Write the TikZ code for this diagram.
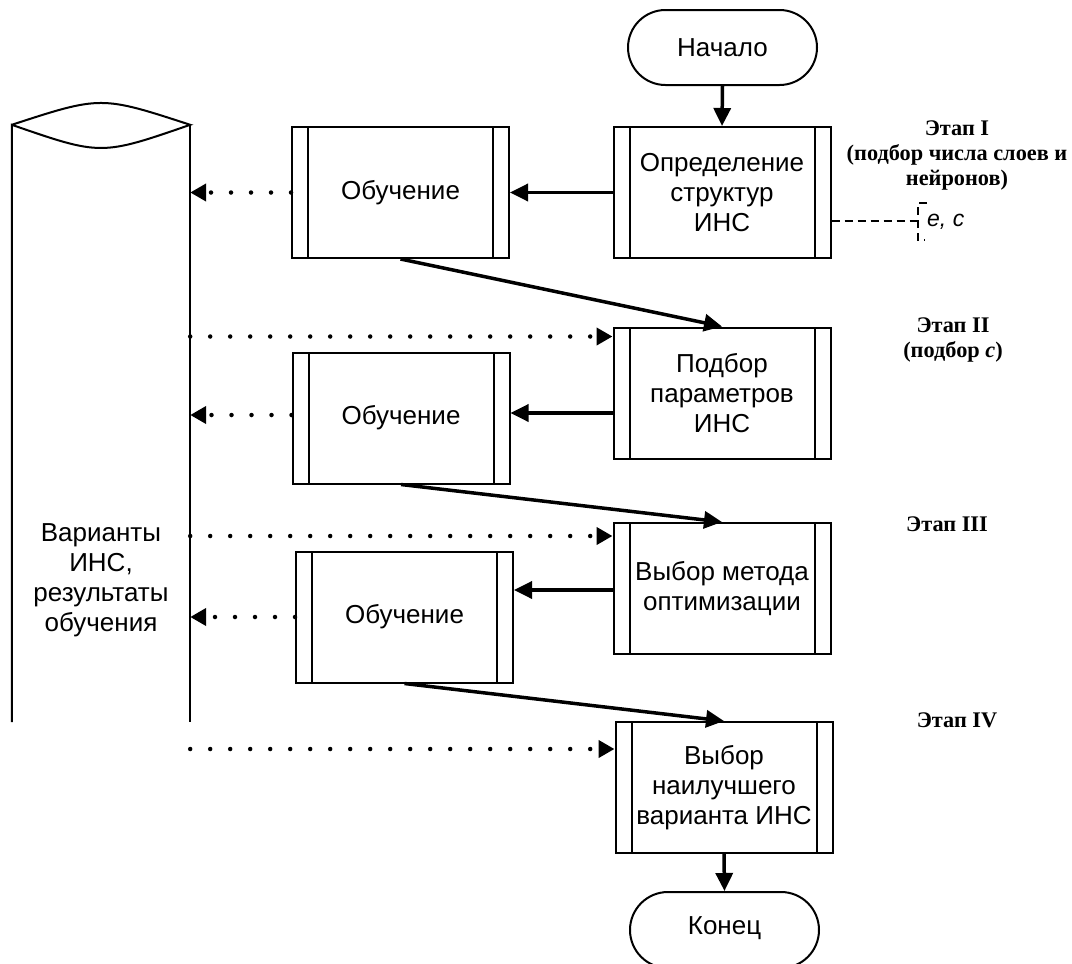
\documentclass[tikz,border=0pt]{standalone}
\usepackage{fontspec}
\setmainfont{Liberation Sans}
\newfontfamily\stagefont{Liberation Serif}
\usetikzlibrary{arrows.meta,shapes.misc}
\begin{document}
\begin{tikzpicture}[x=1pt,y=-1pt,
  txt/.style={font=\fontsize{26}{30}\selectfont},
  proc/.style={draw, line width=2pt, minimum width=217pt, minimum height=131pt,
    align=center, inner sep=0pt, txt,
    path picture={
      \draw[line width=2pt] ([xshift=16pt]path picture bounding box.north west) -- ([xshift=16pt]path picture bounding box.south west);
      \draw[line width=2pt] ([xshift=-16pt]path picture bounding box.north east) -- ([xshift=-16pt]path picture bounding box.south east);
    }},
  term/.style={draw, line width=2pt, rounded rectangle, minimum width=189pt, minimum height=75pt, inner sep=0pt, txt},
  arr/.style={line width=3.5pt, -{Triangle[length=18pt,width=17pt]}},
  dotarr/.style={line width=4.5pt, line cap=round, dash pattern=on 0pt off 20pt,
    -{Triangle[length=16pt,width=17pt]}},
  stage/.style={font=\stagefont\bfseries\fontsize{22.3}{25}\selectfont, align=center, inner sep=0pt},
  annot/.style={line width=1.3pt, dash pattern=on 8pt off 5pt}
]
\useasboundingbox (0,0) rectangle (1072,964);
\clip (0,0) rectangle (1072,964);

% cylinder
\node[minimum width=178pt, minimum height=597pt, inner sep=0pt] (db) at (101,423.5) {};
\draw[line width=2pt] (db.north west) .. controls (101,95.7) .. (db.north east)
  .. controls (101,155.7) .. (db.north west) -- (db.south west);
\draw[line width=2pt] (db.north east) -- (db.south east);
\node[txt, align=center] (dbtext) at (101,580) {Варианты\\ИНС,\\результаты\\обучения};

% nodes
\node[term] (start) at (722.5,47.5) {Начало};
\node[proc] (b1) at (722,192.5) {Определение\\структур\\ИНС};
\node[proc] (o1) at (400.5,192.5) {Обучение};
\node[proc] (b2) at (722,393) {Подбор\\параметров\\ИНС};
\node[proc] (o2) at (401,418) {Обучение};
\node[proc] (b3) at (722,588.5) {Выбор метода\\оптимизации};
\node[proc] (o3) at (404.5,617) {Обучение};
\node[proc] (b4) at (724,787.5) {Выбор\\наилучшего\\варианта ИНС};
\node[term, minimum height=76pt] (end) at (724.5,930) {};
\node[txt] (endtext) at (724.5,928) {Конец};

% solid arrows
\coordinate (l2) at ([yshift=-20pt]b2.west);
\coordinate (l3) at ([yshift=-1.5pt]b3.west);
\draw[arr] (start.south) -- (b1.north);
\draw[arr] (b1.west) -- (o1.east);
\draw[arr] (o1.south) -- (b2.north);
\draw[arr] (l2) -- (o2.east |- l2);
\draw[arr] (o2.south) -- (b3.north);
\draw[arr] (l3) -- (o3.east |- l3);
\draw[arr] (o3.south) -- (b4.north);
\draw[arr] (b4.south) -- (end.north);

% dotted arrows
\coordinate (q2) at ([yshift=3pt]o2.west);
\draw[dotarr] (o1.west) -- (db.east |- o1.west);
\draw[dotarr] (q2) -- (db.east |- q2);
\draw[dotarr] (o3.west) -- (db.east |- o3.west);
\coordinate (r2) at ([yshift=-10pt]b2.north west);
\coordinate (r3) at ([yshift=-14pt]b3.north west);
\coordinate (r4) at ([yshift=-28pt]b4.north west);
\draw[dotarr] (db.east |- r2) -- (r2);
\draw[dotarr] (db.east |- r3) -- (r3);
\draw[dotarr] (db.east |- r4) -- (r4);

% annotation
\coordinate (ab) at (918,221);
\draw[annot] (b1.east |- ab) -- (ab);
\draw[annot] (927,203) -- (918,203) -- (918,240) -- (925,240);
\node[anchor=west, inner sep=0pt, font=\itshape\fontsize{23}{26}\selectfont] (ec) at (927,222) {e, c};

% stage labels
\node[stage, anchor=base] (s1) at (957,185) {Этап I\\(подбор числа слоев и\\нейронов)};
\node[stage, anchor=base] (s2) at (953,357) {Этап II\\(подбор \textit{c})};
\node[stage, anchor=base] (s3) at (947,531) {Этап III};
\node[stage, anchor=base] (s4) at (957,727) {Этап IV};
\end{tikzpicture}
\end{document}
